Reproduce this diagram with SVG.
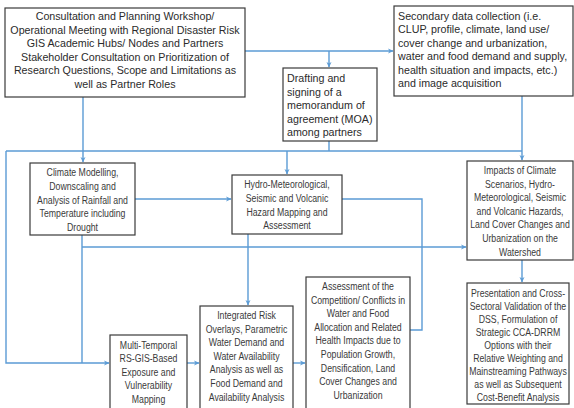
<svg xmlns="http://www.w3.org/2000/svg" width="574" height="408" viewBox="0 0 574 408">
<defs>
<marker id="ah" markerWidth="6" markerHeight="6" refX="5" refY="3" orient="auto" markerUnits="userSpaceOnUse">
<path d="M0,0.5 L5.5,3 L0,5.5 L1.5,3 Z" fill="#5b9bd5"/>
</marker>
<style>
.box{fill:#fff;stroke:#3a3a3a;stroke-width:1.2}
.t{font-family:"Liberation Sans",Arial,sans-serif;font-size:10.7px;fill:#2b2b2b}
.n{font-family:"Liberation Sans",Arial,sans-serif;font-size:10.8px;fill:#3a3a3a;text-anchor:middle}
.c{text-anchor:middle}
.ln{fill:none;stroke:#5b9bd5;stroke-width:1.4}
.ar{marker-end:url(#ah)}
</style>
</defs>
<rect width="574" height="408" fill="#fff"/>
<g id="connectors">
<path class="ln ar" d="M245,51 H393"/>
<path class="ln ar" d="M329,51 V67"/>
<path class="ln ar" d="M83,97 V162"/>
<path class="ln" d="M329,141 V151"/>
<path class="ln" d="M6,151 H522"/>
<path class="ln ar" d="M522,96 V160"/>
<path class="ln ar" d="M287,151 V174"/>
<path class="ln ar" d="M6,151 V363 H109"/>
<path class="ln ar" d="M135,199 H231"/>
<path class="ln" d="M82,235 V363"/>
<path class="ln ar" d="M82,247 H466"/>
<path class="ln" d="M342,199 H422 V330 H410"/>
<path class="ln ar" d="M248,234 V305"/>
<path class="ln ar" d="M187,363 H199"/>
<path class="ln ar" d="M293,363 H305"/>
<path class="ln ar" d="M522,260 V282"/>
</g>
<g id="consultation">
<rect class="box" x="5" y="8" width="240" height="89"/>
<text class="t c" x="125" y="20">Consultation and Planning Workshop/</text>
<text class="t c" x="125" y="33.6">Operational Meeting with Regional Disaster Risk</text>
<text class="t c" x="125" y="47.2">GIS Academic Hubs/ Nodes and Partners</text>
<text class="t c" x="125" y="60.8">Stakeholder Consultation on Prioritization of</text>
<text class="t c" x="125" y="74.4">Research Questions, Scope and Limitations as</text>
<text class="t c" x="125" y="88">well as Partner Roles</text>
</g>
<g id="secondary">
<rect class="box" x="394" y="6" width="179" height="90"/>
<text class="t" x="398" y="19.5">Secondary data collection (i.e.</text>
<text class="t" x="398" y="33">CLUP, profile, climate, land use/</text>
<text class="t" x="398" y="46.5">cover change and urbanization,</text>
<text class="t" x="398" y="60">water and food demand and supply,</text>
<text class="t" x="398" y="73.5">health situation and impacts, etc.)</text>
<text class="t" x="398" y="87">and image acquisition</text>
</g>
<g id="drafting">
<rect class="box" x="283" y="68" width="94" height="73"/>
<text class="t" x="287" y="82">Drafting and</text>
<text class="t" x="287" y="95.6">signing of a</text>
<text class="t" x="287" y="109.2">memorandum of</text>
<text class="t" x="287" y="122.8">agreement (MOA)</text>
<text class="t" x="287" y="136.4">among partners</text>
</g>
<g id="climate">
<rect class="box" x="30" y="163" width="105" height="72"/>
<g transform="translate(82.5 0) scale(0.81 1)">
<text class="n" x="0" y="176.3">Climate Modelling,</text>
<text class="n" x="0" y="190">Downscaling and</text>
<text class="n" x="0" y="203.7">Analysis of Rainfall and</text>
<text class="n" x="0" y="217.4">Temperature including</text>
<text class="n" x="0" y="231.1">Drought</text>
</g>
</g>
<g id="hydro">
<rect class="box" x="232" y="175" width="110" height="59"/>
<g transform="translate(287 0) scale(0.81 1)">
<text class="n" x="0" y="188.4">Hydro-Meteorological,</text>
<text class="n" x="0" y="202">Seismic and Volcanic</text>
<text class="n" x="0" y="215.6">Hazard Mapping and</text>
<text class="n" x="0" y="229.2">Assessment</text>
</g>
</g>
<g id="impacts">
<rect class="box" x="467" y="161" width="106" height="99"/>
<g transform="translate(520 0) scale(0.81 1)">
<text class="n" x="0" y="174">Impacts of Climate</text>
<text class="n" x="0" y="187.6">Scenarios, Hydro-</text>
<text class="n" x="0" y="201.2">Meteorological, Seismic</text>
<text class="n" x="0" y="214.8">and Volcanic Hazards,</text>
<text class="n" x="0" y="228.4">Land Cover Changes and</text>
<text class="n" x="0" y="242">Urbanization on the</text>
<text class="n" x="0" y="255.6">Watershed</text>
</g>
</g>
<g id="presentation">
<rect class="box" x="467" y="283" width="102" height="121"/>
<g transform="translate(518 0) scale(0.81 1)">
<text class="n" x="0" y="297">Presentation and Cross-</text>
<text class="n" x="0" y="310">Sectoral Validation of the</text>
<text class="n" x="0" y="323">DSS, Formulation of</text>
<text class="n" x="0" y="336">Strategic CCA-DRRM</text>
<text class="n" x="0" y="349">Options with their</text>
<text class="n" x="0" y="362">Relative Weighting and</text>
<text class="n" x="0" y="375">Mainstreaming Pathways</text>
<text class="n" x="0" y="388">as well as Subsequent</text>
<text class="n" x="0" y="401">Cost-Benefit Analysis</text>
</g>
</g>
<g id="multitemporal">
<rect class="box" x="110" y="335" width="77" height="80"/>
<g transform="translate(148.5 0) scale(0.81 1)">
<text class="n" x="0" y="349">Multi-Temporal</text>
<text class="n" x="0" y="362.5">RS-GIS-Based</text>
<text class="n" x="0" y="376">Exposure and</text>
<text class="n" x="0" y="389.5">Vulnerability</text>
<text class="n" x="0" y="403">Mapping</text>
</g>
</g>
<g id="integrated">
<rect class="box" x="200" y="306" width="93" height="110"/>
<g transform="translate(246.5 0) scale(0.81 1)">
<text class="n" x="0" y="319">Integrated Risk</text>
<text class="n" x="0" y="332.6">Overlays, Parametric</text>
<text class="n" x="0" y="346.2">Water Demand and</text>
<text class="n" x="0" y="359.8">Water Availability</text>
<text class="n" x="0" y="373.4">Analysis as well as</text>
<text class="n" x="0" y="387">Food Demand and</text>
<text class="n" x="0" y="400.6">Availability Analysis</text>
</g>
</g>
<g id="assessment">
<rect class="box" x="306" y="277" width="104" height="140"/>
<g transform="translate(358 0) scale(0.81 1)">
<text class="n" x="0" y="290">Assessment of the</text>
<text class="n" x="0" y="303.6">Competition/ Conflicts in</text>
<text class="n" x="0" y="317.2">Water and Food</text>
<text class="n" x="0" y="330.8">Allocation and Related</text>
<text class="n" x="0" y="344.4">Health Impacts due to</text>
<text class="n" x="0" y="358">Population Growth,</text>
<text class="n" x="0" y="371.6">Densification, Land</text>
<text class="n" x="0" y="385.2">Cover Changes and</text>
<text class="n" x="0" y="398.8">Urbanization</text>
</g>
</g>
</svg>
